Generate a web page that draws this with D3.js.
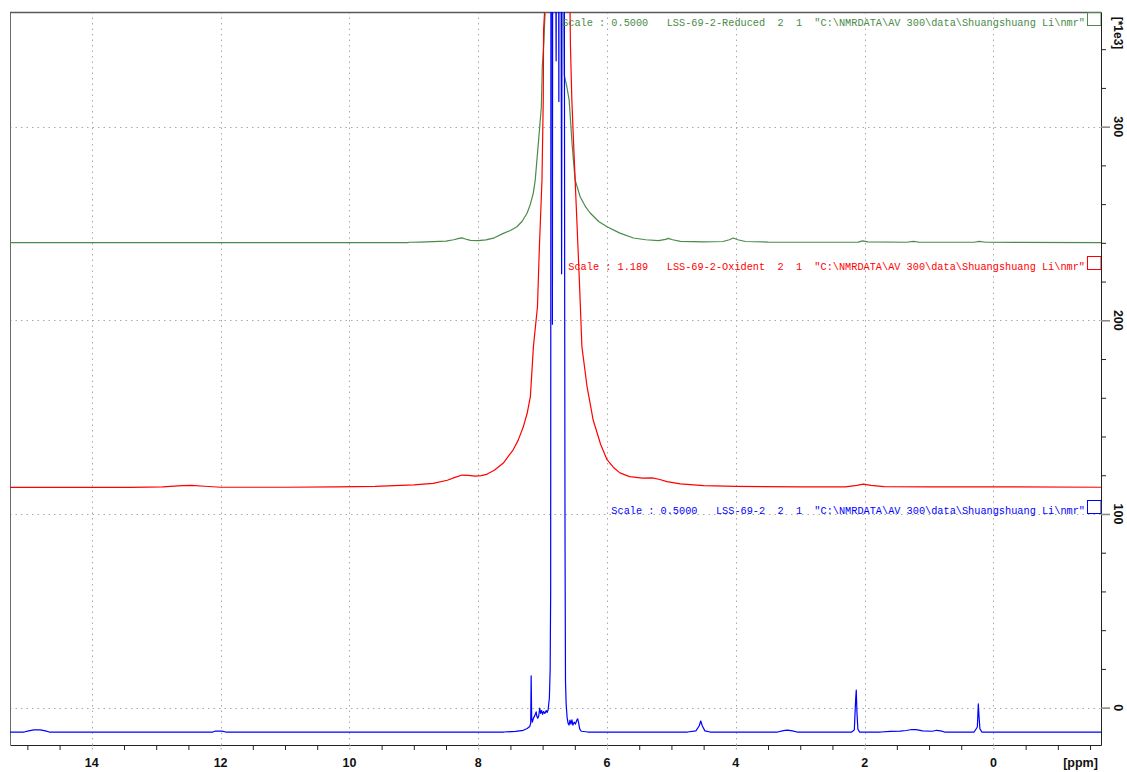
<!DOCTYPE html>
<html>
<head>
<meta charset="utf-8">
<script src="https://cdn.jsdelivr.net/npm/d3@7"></script>
<style>
  html, body { margin: 0; padding: 0; background: #ffffff; }
  svg { display: block; }
</style>
</head>
<body>
<svg id="chart" width="1127" height="772"></svg>
<script>
// ---- axis ranges and ticks ----
const ppmDomain = [15.27, -1.67];            // chemical shift, ppm (reversed)
const intensityDomain = [-19.3, 359.2];      // intensity, x 1e3
const ppmLabelTicks = [14, 12, 10, 8, 6, 4, 2, 0];
const ppmMinorTicks = d3.range(-1.5, 15.01, 0.5);
const intensityLabelTicks = [0, 100, 200, 300];
const intensityMinorTicks = d3.range(0, 341, 20);

// ---- stacked 1H spectra (ppm, intensity) ----
const seriesNames = ["LSS-69-2-Reduced", "LSS-69-2-Oxident", "LSS-69-2"];
const seriesColors = ["#4a8a4a", "#ff0000", "#0000ff"];
const seriesLabels = [
  'Scale : 0.5000   LSS-69-2-Reduced  2  1  "C:\\NMRDATA\\AV 300\\data\\Shuangshuang Li\\nmr"',
  'Scale : 1.189   LSS-69-2-Oxident  2  1  "C:\\NMRDATA\\AV 300\\data\\Shuangshuang Li\\nmr"',
  'Scale : 0.5000   LSS-69-2  2  1  "C:\\NMRDATA\\AV 300\\data\\Shuangshuang Li\\nmr"'
];
const labelLevels = [353.7, 227.7, 101.7];   // intensity at which each title row sits

const reducedSpectrum = [
  [15.27,240.1],[9.10,240.1],[9.06,240.3],[8.90,240.4],[8.70,240.6],[8.50,240.9],[8.38,241.6],
  [8.30,242.3],[8.255,242.6],[8.20,242.0],[8.12,241.3],[8.00,241.1],[7.88,241.5],[7.75,242.6],
  [7.61,244.9],[7.50,246.4],[7.40,248.3],[7.32,251.0],[7.24,255.4],[7.19,260.0],[7.145,265.7],
  [7.115,272.4],[7.07,290.0],[7.02,310.0],[7.005,331.0],[6.98,344.0],[6.958,362.0],[6.94,480],
  [6.70,480],[6.672,362.0],[6.664,326.6],[6.624,320.6],[6.588,313.7],[6.54,290.0],[6.495,272.4],
  [6.417,263.8],[6.34,259.0],[6.262,255.4],[6.13,251.0],[6.00,248.3],[5.80,245.0],[5.59,242.5],
  [5.40,241.6],[5.20,241.1],[5.09,241.8],[5.05,242.3],[4.98,241.6],[4.86,240.8],[4.50,240.5],
  [4.20,240.7],[4.10,241.6],[4.04,242.5],[3.97,241.6],[3.85,240.7],[3.50,240.4],[2.60,240.3],
  [2.10,240.4],[2.03,241.0],[1.95,240.5],[1.35,240.3],[1.24,240.8],[1.15,240.3],[0.30,240.3],
  [0.22,240.8],[0.12,240.3],[-1.67,240.1]
];

const oxidentSpectrum = [
  [15.27,113.7],[13.40,113.7],[12.90,114.0],[12.60,114.6],[12.45,114.8],[12.25,114.3],[12.00,113.8],
  [11.00,113.8],[10.20,114.0],[9.60,114.2],[9.00,115.0],[8.70,115.8],[8.48,117.4],[8.35,119.0],
  [8.25,120.1],[8.15,119.9],[8.05,119.5],[7.95,119.8],[7.86,120.6],[7.75,122.6],[7.61,126.3],
  [7.46,133.0],[7.38,138.0],[7.30,145.0],[7.24,152.0],[7.19,160.6],[7.143,186.4],[7.08,207.0],
  [7.05,238.0],[7.01,272.4],[6.99,313.7],[6.985,350.0],[6.96,365.0],[6.94,480],[6.60,480],
  [6.575,362.0],[6.568,342.0],[6.546,313.7],[6.52,292.0],[6.495,272.4],[6.43,221.0],[6.39,186.4],
  [6.31,165.7],[6.215,148.5],[6.10,136.0],[6.00,128.0],[5.90,124.0],[5.80,121.2],[5.65,119.3],
  [5.45,118.5],[5.30,118.6],[5.18,117.8],[5.07,116.7],[4.86,115.5],[4.50,114.6],[4.00,114.2],
  [3.00,114.0],[2.30,114.0],[2.12,114.8],[2.02,115.4],[1.90,114.8],[1.70,114.1],[1.00,114.0],
  [0.20,114.0],[-1.67,113.8]
];

const originalSpectrum = [
  [15.27,-12.6],[15.05,-12.6],[14.98,-12.0],[14.90,-11.5],[14.80,-11.5],[14.72,-12.0],[14.66,-12.6],
  [12.12,-12.6],[12.08,-12.1],[11.98,-12.1],[11.92,-12.6],
  [7.60,-12.6],[7.42,-12.3],[7.30,-11.7],[7.24,-10.8],[7.20,-9.8],[7.185,-8.0],[7.178,16.4],
  [7.17,-5.0],[7.16,-7.5],[7.14,-5.3],[7.12,-4.0],[7.10,-2.2],[7.09,-4.5],[7.075,-5.5],[7.06,-4.2],
  [7.045,-0.3],[7.03,-3.0],[7.015,-1.5],[7.00,-3.5],[6.985,-2.0],[6.965,-3.0],[6.945,-1.5],
  [6.93,-2.5],[6.915,-1.2],[6.895,5.0],[6.883,19.5],[6.875,60],[6.868,600],[6.856,600],
  [6.848,198],[6.84,600],[6.825,600],[6.79,334],[6.775,600],[6.76,600],[6.748,313],[6.738,600],
  [6.725,600],[6.705,224],[6.69,600],[6.67,600],[6.657,200],[6.652,86],[6.645,14],[6.635,2],
  [6.62,-5],[6.605,-8],[6.59,-9],[6.575,-6.5],[6.56,-8.5],[6.545,-6.3],[6.53,-9],[6.51,-7.5],
  [6.49,-8.5],[6.47,-6.5],[6.455,-5.8],[6.44,-8],[6.425,-11],[6.40,-12.2],[6.30,-12.6],
  [4.75,-12.6],[4.62,-12.0],[4.57,-9.5],[4.545,-6.9],[4.52,-9.5],[4.48,-12.0],[4.40,-12.6],
  [3.35,-12.6],[3.26,-11.9],[3.20,-11.6],[3.12,-12.0],[3.05,-12.6],[2.20,-12.6],[2.16,-11.5],
  [2.14,4.0],[2.13,9.1],[2.12,-2.0],[2.105,-11.0],[2.08,-12.6],[1.75,-12.6],[1.60,-12.3],
  [1.45,-12.1],[1.35,-11.8],[1.27,-11.3],[1.20,-11.4],[1.10,-12.0],[0.95,-12.2],[0.88,-11.7],
  [0.82,-12.0],[0.76,-12.6],[0.30,-12.6],[0.25,-10.0],[0.235,1.9],[0.225,-4.0],[0.21,-11.0],
  [0.18,-12.6],[-1.67,-12.6]
];

const spectra = [reducedSpectrum, oxidentSpectrum, originalSpectrum];

// ---- layout ----
const plot = { left: 10, right: 1101, top: 12, bottom: 745 };
const svg = d3.select("#chart");

const x = d3.scaleLinear().domain(ppmDomain).range([plot.left, plot.right]);
const y = d3.scaleLinear().domain(intensityDomain).range([plot.bottom, plot.top]);

svg.append("defs").append("clipPath").attr("id", "plot-clip")
  .append("rect")
  .attr("x", plot.left).attr("y", plot.top)
  .attr("width", plot.right - plot.left).attr("height", plot.bottom - plot.top);

// dotted grid at the labelled ticks
const grid = svg.append("g")
  .attr("stroke", "#a9a9a9").attr("stroke-width", 1)
  .attr("stroke-dasharray", "1.5,4");
grid.append("g").selectAll("line").data(ppmLabelTicks).join("line")
  .attr("x1", d => Math.round(x(d)) + 0.5).attr("x2", d => Math.round(x(d)) + 0.5)
  .attr("y1", plot.top).attr("y2", plot.bottom);
grid.append("g").selectAll("line").data(intensityLabelTicks).join("line")
  .attr("x1", plot.left).attr("x2", plot.right)
  .attr("y1", d => Math.round(y(d)) + 0.5).attr("y2", d => Math.round(y(d)) + 0.5);

// frame: left and top edges
svg.append("line")
  .attr("x1", plot.left + 0.5).attr("x2", plot.left + 0.5)
  .attr("y1", plot.top).attr("y2", plot.bottom)
  .attr("stroke", "#6a6a6a").attr("stroke-width", 1);
svg.append("line")
  .attr("x1", plot.left).attr("x2", plot.right)
  .attr("y1", plot.top + 0.5).attr("y2", plot.top + 0.5)
  .attr("stroke", "#5a5a5a").attr("stroke-width", 1.6);

// spectra
const line = d3.line().x(d => x(d[0])).y(d => y(d[1]));
const traces = svg.append("g").attr("clip-path", "url(#plot-clip)");
spectra.forEach((data, i) => {
  traces.append("path")
    .attr("d", line(data))
    .attr("fill", "none")
    .attr("stroke", seriesColors[i])
    .attr("stroke-width", 1.2)
    .attr("stroke-linejoin", "round");
});

// title rows and scale handles at the right edge
const titles = svg.append("g");
seriesLabels.forEach((label, i) => {
  const yc = y(labelLevels[i]);
  titles.append("text")
    .attr("x", 1085).attr("y", yc + 3.5)
    .attr("text-anchor", "end")
    .style("white-space", "pre")
    .attr("font-family", "'Liberation Mono', 'Courier New', monospace")
    .attr("font-size", "10.25px")
    .attr("fill", seriesColors[i])
    .text(label);
  titles.append("rect")
    .attr("x", 1087.5).attr("y", Math.round(yc - 11) + 0.5)
    .attr("width", plot.right - 1087.5).attr("height", 13)
    .attr("fill", "none")
    .attr("stroke", seriesColors[i]).attr("stroke-width", 1);
});

// bottom axis (ppm)
const xAxis = svg.append("g")
  .attr("transform", `translate(0,${plot.bottom})`)
  .call(d3.axisBottom(x).tickValues(ppmMinorTicks).tickSize(5).tickSizeOuter(0).tickFormat(""));
xAxis.select(".domain").attr("stroke", "#222");
xAxis.selectAll(".tick line")
  .attr("stroke", d => (Math.abs(d % 2) < 1e-9 ? "#9a9a9a" : "#222"))
  .attr("stroke-dasharray", d => (Math.abs(d % 2) < 1e-9 ? "1.5,1.5" : null));

const axisFont = "'Liberation Sans', Arial, sans-serif";
svg.append("g").selectAll("text").data(ppmLabelTicks).join("text")
  .attr("x", d => x(d)).attr("y", 766.5)
  .attr("text-anchor", "middle")
  .attr("font-family", axisFont).attr("font-weight", "bold").attr("font-size", "12.5px")
  .attr("fill", "#111")
  .text(d => d);
svg.append("text")
  .attr("x", 1080.5).attr("y", 766.5)
  .attr("text-anchor", "middle")
  .attr("font-family", axisFont).attr("font-weight", "bold").attr("font-size", "12.5px")
  .attr("fill", "#111")
  .text("[ppm]");

// right axis (intensity)
const yAxis = svg.append("g")
  .attr("transform", `translate(${plot.right},0)`)
  .call(d3.axisRight(y).tickValues(intensityMinorTicks).tickSize(5).tickSizeOuter(0).tickFormat(""));
yAxis.select(".domain").attr("stroke", "#222");
yAxis.selectAll(".tick line")
  .attr("stroke", d => (d % 100 === 0 ? "#8a8a8a" : "#222"))
  .attr("stroke-width", d => (d % 100 === 0 ? 1.6 : 1))
  .attr("x2", d => (d % 100 === 0 ? 9 : 5));

svg.append("g").selectAll("text").data(intensityLabelTicks).join("text")
  .attr("transform", d => `translate(1113.5,${y(d)}) rotate(90)`)
  .attr("text-anchor", "middle")
  .attr("font-family", axisFont).attr("font-weight", "bold").attr("font-size", "12.5px")
  .attr("fill", "#111")
  .text(d => d);
svg.append("text")
  .attr("transform", `translate(1113.5,33) rotate(90)`)
  .attr("text-anchor", "middle")
  .attr("font-family", axisFont).attr("font-weight", "bold").attr("font-size", "12px")
  .attr("fill", "#111")
  .text("[*1e3]");
</script>
</body>
</html>
